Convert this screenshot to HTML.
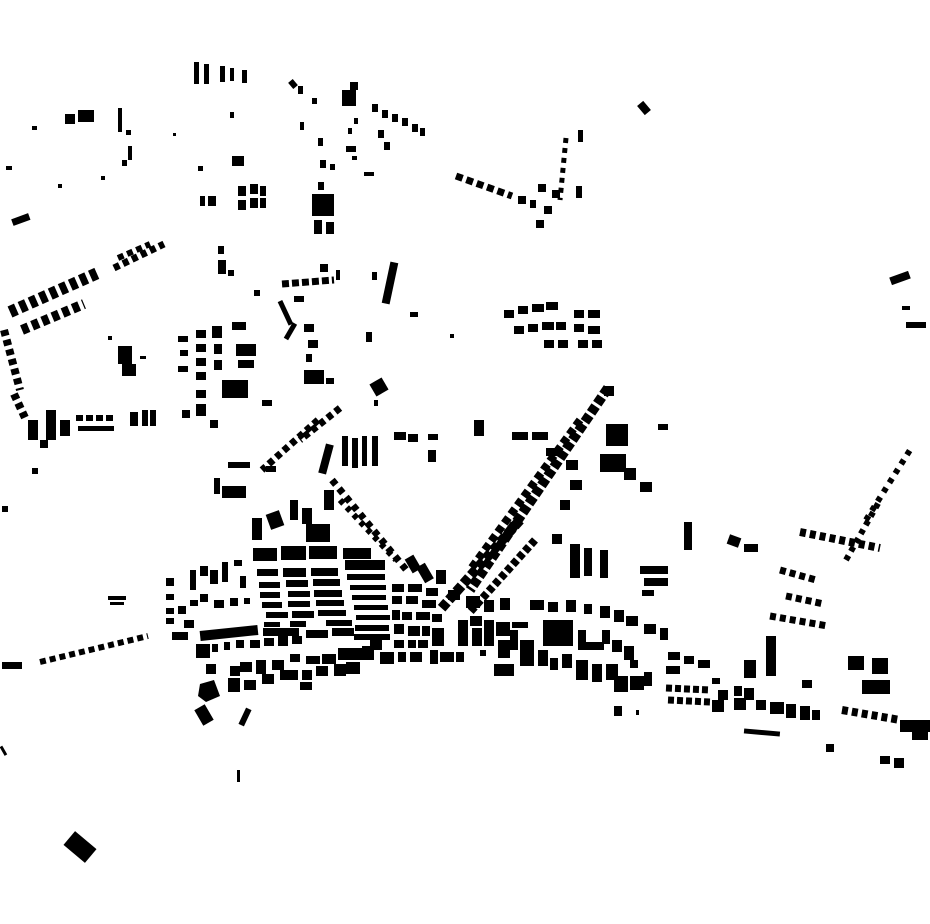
<!DOCTYPE html>
<html><head><style>html,body{margin:0;padding:0;background:#fff}svg{display:block}</style></head>
<body>
<svg width="930" height="924" viewBox="0 0 930 924" xmlns="http://www.w3.org/2000/svg" fill="#000">
<g stroke="#000" fill="none">
<!-- dashed rows of buildings -->
<line x1="456" y1="176" x2="512" y2="196" stroke-width="7" stroke-dasharray="7 4"/>
<line x1="10" y1="312" x2="100" y2="272" stroke-width="12" stroke-dasharray="7 4"/>
<line x1="22" y1="330" x2="84" y2="304" stroke-width="10" stroke-dasharray="7 4"/>
<line x1="114" y1="268" x2="164" y2="244" stroke-width="7" stroke-dasharray="6 4"/>
<line x1="118" y1="258" x2="150" y2="244" stroke-width="6" stroke-dasharray="6 4"/>
<line x1="4" y1="330" x2="20" y2="390" stroke-width="8" stroke-dasharray="6 4"/>
<line x1="14" y1="394" x2="26" y2="420" stroke-width="8" stroke-dasharray="6 4"/>
<line x1="40" y1="662" x2="148" y2="636" stroke-width="6" stroke-dasharray="6 4"/>
<line x1="608" y1="388" x2="470" y2="590" stroke-width="10" stroke-dasharray="8 3"/>
<line x1="580" y1="420" x2="470" y2="570" stroke-width="8" stroke-dasharray="7 4"/>
<line x1="520" y1="520" x2="440" y2="610" stroke-width="10" stroke-dasharray="8 3"/>
<line x1="535" y1="540" x2="470" y2="612" stroke-width="8" stroke-dasharray="6 3"/>
<line x1="340" y1="408" x2="300" y2="440" stroke-width="7" stroke-dasharray="6 4"/>
<line x1="318" y1="420" x2="262" y2="470" stroke-width="7" stroke-dasharray="6 4"/>
<line x1="332" y1="480" x2="408" y2="572" stroke-width="7" stroke-dasharray="6 5"/>
<line x1="340" y1="500" x2="396" y2="560" stroke-width="6" stroke-dasharray="5 5"/>
<line x1="770" y1="616" x2="828" y2="626" stroke-width="7" stroke-dasharray="6 4"/>
<line x1="786" y1="596" x2="824" y2="604" stroke-width="7" stroke-dasharray="6 4"/>
<line x1="780" y1="570" x2="816" y2="580" stroke-width="7" stroke-dasharray="6 4"/>
<line x1="842" y1="710" x2="900" y2="720" stroke-width="8" stroke-dasharray="6 4"/>
<line x1="800" y1="532" x2="880" y2="548" stroke-width="8" stroke-dasharray="6 4"/>
<line x1="846" y1="560" x2="880" y2="500" stroke-width="6" stroke-dasharray="5 5"/>
<line x1="866" y1="520" x2="910" y2="450" stroke-width="6" stroke-dasharray="5 6"/>
<line x1="666" y1="688" x2="710" y2="690" stroke-width="7" stroke-dasharray="6 3"/>
<line x1="668" y1="700" x2="710" y2="702" stroke-width="7" stroke-dasharray="6 3"/>
<line x1="566" y1="138" x2="560" y2="200" stroke-width="5" stroke-dasharray="5 5"/>
<line x1="76" y1="418" x2="116" y2="418" stroke-width="6" stroke-dasharray="7 3"/>
<line x1="282" y1="284" x2="334" y2="280" stroke-width="7" stroke-dasharray="7 3"/>
<line x1="342" y1="438" x2="382" y2="438" stroke-width="0"/>
</g>
<!-- top north -->
<rect x="194" y="62" width="5" height="22"/><rect x="204" y="64" width="5" height="20"/><rect x="220" y="66" width="5" height="16"/><rect x="230" y="68" width="4" height="13"/><rect x="242" y="70" width="5" height="13"/>
<rect x="290" y="80" width="6" height="8" transform="rotate(-40 293 84)"/><rect x="298" y="86" width="5" height="8"/><rect x="312" y="98" width="5" height="6"/>
<rect x="342" y="90" width="14" height="16"/><rect x="350" y="82" width="8" height="8"/><rect x="372" y="104" width="6" height="8"/><rect x="382" y="110" width="6" height="8"/><rect x="392" y="114" width="6" height="8"/><rect x="402" y="118" width="6" height="8"/><rect x="412" y="124" width="6" height="8"/><rect x="420" y="128" width="5" height="8"/>
<rect x="354" y="118" width="4" height="6"/><rect x="348" y="128" width="4" height="6"/><rect x="378" y="130" width="6" height="8"/><rect x="384" y="142" width="6" height="8"/><rect x="346" y="146" width="10" height="6"/><rect x="352" y="156" width="5" height="4"/>
<rect x="65" y="114" width="10" height="10"/><rect x="78" y="110" width="16" height="12"/><rect x="32" y="126" width="5" height="4"/><rect x="118" y="108" width="4" height="24"/><rect x="126" y="130" width="5" height="5"/><rect x="128" y="146" width="4" height="14"/><rect x="122" y="160" width="5" height="6"/>
<rect x="232" y="156" width="12" height="10"/><rect x="230" y="112" width="4" height="6"/><rect x="318" y="138" width="5" height="8"/><rect x="320" y="160" width="6" height="8"/><rect x="330" y="164" width="5" height="6"/><rect x="364" y="172" width="10" height="4"/>
<rect x="6" y="166" width="6" height="4"/><rect x="58" y="184" width="4" height="4"/><rect x="101" y="176" width="4" height="4"/><rect x="173" y="133" width="3" height="3"/><rect x="300" y="122" width="4" height="8"/>
<rect x="238" y="186" width="8" height="10"/><rect x="250" y="184" width="8" height="10"/><rect x="260" y="186" width="6" height="10"/><rect x="238" y="200" width="8" height="10"/><rect x="250" y="198" width="8" height="10"/><rect x="260" y="198" width="6" height="10"/>
<rect x="200" y="196" width="5" height="10"/><rect x="208" y="196" width="8" height="10"/><rect x="198" y="166" width="5" height="5"/>
<rect x="312" y="194" width="22" height="22"/><rect x="314" y="220" width="8" height="14"/><rect x="326" y="222" width="8" height="12"/><rect x="318" y="182" width="6" height="8"/>
<rect x="12" y="216" width="18" height="7" transform="rotate(-20 21 220)"/>
<rect x="218" y="246" width="6" height="8"/><rect x="218" y="260" width="8" height="14"/><rect x="228" y="270" width="6" height="6"/><rect x="254" y="290" width="6" height="6"/>
<rect x="386" y="262" width="8" height="42" transform="rotate(12 390 283)"/><rect x="372" y="272" width="5" height="8"/>
<rect x="320" y="264" width="8" height="8"/><rect x="336" y="270" width="4" height="10"/><rect x="294" y="296" width="10" height="6"/>
<rect x="283" y="300" width="5" height="26" transform="rotate(-25 285 313)"/><rect x="288" y="322" width="5" height="18" transform="rotate(30 290 331)"/>
<!-- top right cluster -->
<rect x="538" y="184" width="8" height="8"/><rect x="552" y="190" width="8" height="8"/><rect x="530" y="200" width="6" height="8"/><rect x="544" y="206" width="8" height="8"/><rect x="536" y="220" width="8" height="8"/><rect x="518" y="196" width="8" height="8"/>
<rect x="578" y="130" width="5" height="12"/><rect x="576" y="186" width="6" height="12"/>
<rect x="640" y="102" width="8" height="12" transform="rotate(-40 644 108)"/>
<rect x="504" y="310" width="10" height="8"/><rect x="518" y="306" width="10" height="8"/><rect x="532" y="304" width="12" height="8"/><rect x="546" y="302" width="12" height="8"/><rect x="574" y="310" width="10" height="8"/><rect x="588" y="310" width="12" height="8"/>
<rect x="514" y="326" width="10" height="8"/><rect x="528" y="324" width="10" height="8"/><rect x="542" y="322" width="12" height="8"/><rect x="556" y="322" width="10" height="8"/><rect x="574" y="324" width="10" height="8"/><rect x="588" y="326" width="12" height="8"/>
<rect x="544" y="340" width="10" height="8"/><rect x="558" y="340" width="10" height="8"/><rect x="578" y="340" width="10" height="8"/><rect x="592" y="340" width="10" height="8"/>
<rect x="410" y="312" width="8" height="5"/><rect x="450" y="334" width="4" height="4"/><rect x="366" y="332" width="6" height="10"/>
<!-- left west -->
<rect x="46" y="410" width="10" height="30"/><rect x="60" y="420" width="10" height="16"/><rect x="78" y="426" width="36" height="5"/><rect x="130" y="412" width="8" height="14"/><rect x="142" y="410" width="6" height="16"/><rect x="150" y="410" width="6" height="16"/><rect x="28" y="420" width="10" height="20"/>
<rect x="40" y="440" width="8" height="8"/><rect x="32" y="468" width="6" height="6"/><rect x="2" y="506" width="6" height="6"/>
<rect x="118" y="346" width="14" height="18"/><rect x="122" y="364" width="14" height="12"/><rect x="108" y="336" width="4" height="4"/><rect x="140" y="356" width="6" height="3"/>
<!-- middle-left -->
<rect x="178" y="336" width="10" height="6"/><rect x="180" y="350" width="8" height="6"/><rect x="178" y="366" width="10" height="6"/><rect x="196" y="330" width="10" height="8"/><rect x="196" y="344" width="10" height="8"/><rect x="196" y="358" width="10" height="8"/><rect x="196" y="372" width="10" height="8"/><rect x="196" y="390" width="10" height="8"/><rect x="196" y="404" width="10" height="12"/>
<rect x="212" y="326" width="10" height="12"/><rect x="214" y="344" width="8" height="10"/><rect x="214" y="360" width="8" height="10"/><rect x="232" y="322" width="14" height="8"/><rect x="236" y="344" width="20" height="12"/><rect x="238" y="360" width="16" height="8"/>
<rect x="222" y="380" width="26" height="18"/><rect x="262" y="400" width="10" height="6"/><rect x="182" y="410" width="8" height="8"/><rect x="210" y="420" width="8" height="8"/>
<rect x="304" y="324" width="10" height="8"/><rect x="308" y="340" width="10" height="8"/><rect x="306" y="354" width="6" height="8"/><rect x="304" y="370" width="20" height="14"/><rect x="326" y="378" width="8" height="6"/>
<rect x="372" y="380" width="14" height="14" transform="rotate(-30 379 387)"/><rect x="374" y="400" width="4" height="6"/>
<rect x="228" y="462" width="22" height="6"/><rect x="266" y="466" width="10" height="6"/><rect x="214" y="478" width="6" height="16"/><rect x="222" y="486" width="24" height="12"/>
<rect x="322" y="444" width="8" height="30" transform="rotate(15 326 459)"/>
<rect x="342" y="436" width="6" height="30"/><rect x="352" y="438" width="6" height="30"/><rect x="362" y="436" width="5" height="30"/><rect x="372" y="436" width="6" height="30"/><rect x="394" y="432" width="12" height="8"/><rect x="408" y="434" width="10" height="8"/><rect x="428" y="434" width="10" height="6"/><rect x="428" y="450" width="8" height="12"/>
<rect x="474" y="420" width="10" height="16"/><rect x="512" y="432" width="16" height="8"/><rect x="532" y="432" width="16" height="8"/><rect x="658" y="424" width="10" height="6"/>
<rect x="606" y="424" width="22" height="22"/><rect x="600" y="454" width="26" height="18"/><rect x="624" y="468" width="12" height="12"/><rect x="640" y="482" width="12" height="10"/><rect x="604" y="386" width="10" height="10"/>
<rect x="546" y="448" width="12" height="8"/><rect x="566" y="460" width="12" height="10"/><rect x="570" y="480" width="12" height="10"/><rect x="560" y="500" width="10" height="10"/>
<!-- main grid -->
<rect x="252" y="518" width="10" height="22"/><rect x="268" y="512" width="14" height="16" transform="rotate(-20 275 520)"/><rect x="290" y="500" width="8" height="20"/><rect x="302" y="508" width="10" height="16"/><rect x="306" y="524" width="24" height="18"/><rect x="324" y="490" width="10" height="20"/>
<rect x="253" y="548" width="24" height="13"/><rect x="281" y="546" width="25" height="14"/><rect x="309" y="546" width="28" height="13"/><rect x="343" y="548" width="28" height="11"/>
<rect x="345" y="560" width="40" height="10"/>
<rect x="257" y="569" width="21" height="7"/><rect x="283" y="568" width="23" height="9"/><rect x="311" y="568" width="27" height="8"/><rect x="347" y="574" width="38" height="6"/>
<rect x="259" y="582" width="21" height="6"/><rect x="286" y="580" width="22" height="7"/><rect x="313" y="579" width="27" height="7"/><rect x="350" y="585" width="36" height="5"/>
<rect x="260" y="592" width="20" height="6"/><rect x="288" y="591" width="22" height="6"/><rect x="314" y="590" width="28" height="7"/><rect x="352" y="595" width="34" height="5"/>
<rect x="262" y="602" width="20" height="6"/><rect x="288" y="601" width="22" height="6"/><rect x="316" y="600" width="28" height="6"/><rect x="354" y="605" width="34" height="5"/>
<rect x="266" y="612" width="22" height="6"/><rect x="292" y="611" width="22" height="7"/><rect x="318" y="610" width="28" height="6"/><rect x="356" y="615" width="34" height="5"/>
<rect x="264" y="622" width="16" height="5"/><rect x="290" y="621" width="16" height="6"/><rect x="326" y="620" width="26" height="6"/><rect x="355" y="625" width="34" height="6"/>
<rect x="200" y="628" width="58" height="10" transform="rotate(-6 229 633)"/><rect x="263" y="628" width="36" height="8"/><rect x="306" y="630" width="22" height="8"/><rect x="332" y="628" width="22" height="8"/><rect x="354" y="634" width="36" height="6"/>
<!-- left part -->
<rect x="166" y="578" width="8" height="8"/><rect x="166" y="594" width="8" height="6"/><rect x="166" y="608" width="8" height="6"/><rect x="166" y="618" width="8" height="6"/><rect x="178" y="606" width="8" height="8"/><rect x="184" y="620" width="10" height="8"/>
<rect x="172" y="632" width="16" height="8"/><rect x="190" y="570" width="6" height="20"/><rect x="200" y="566" width="8" height="10"/><rect x="210" y="570" width="8" height="14"/><rect x="222" y="562" width="6" height="20"/><rect x="234" y="560" width="8" height="6"/><rect x="240" y="576" width="6" height="12"/>
<rect x="190" y="600" width="8" height="6"/><rect x="200" y="594" width="8" height="8"/><rect x="214" y="600" width="10" height="8"/><rect x="230" y="598" width="8" height="8"/><rect x="244" y="598" width="6" height="6"/>
<rect x="196" y="644" width="14" height="14"/><rect x="212" y="644" width="6" height="8"/><rect x="224" y="642" width="6" height="8"/><rect x="236" y="640" width="8" height="8"/><rect x="250" y="640" width="10" height="8"/><rect x="264" y="638" width="10" height="8"/><rect x="278" y="636" width="10" height="10"/><rect x="292" y="636" width="10" height="8"/>
<rect x="206" y="664" width="10" height="10"/><rect x="230" y="666" width="10" height="10"/><rect x="240" y="662" width="12" height="10"/><rect x="256" y="660" width="10" height="14"/><rect x="272" y="660" width="12" height="10"/><rect x="290" y="654" width="10" height="8"/><rect x="306" y="656" width="14" height="8"/><rect x="322" y="654" width="14" height="10"/><rect x="338" y="648" width="24" height="12"/><rect x="362" y="646" width="12" height="14"/>
<rect x="228" y="678" width="12" height="14"/><rect x="244" y="680" width="12" height="10"/><rect x="262" y="674" width="12" height="10"/><rect x="280" y="670" width="18" height="10"/><rect x="302" y="670" width="10" height="10"/><rect x="316" y="666" width="12" height="10"/><rect x="334" y="664" width="12" height="12"/><rect x="346" y="662" width="14" height="12"/>
<rect x="300" y="682" width="12" height="8"/>
<polygon points="200,684 214,680 220,696 206,702 198,696"/><rect x="198" y="706" width="12" height="18" transform="rotate(-30 204 715)"/><rect x="242" y="708" width="6" height="18" transform="rotate(25 245 717)"/>
<rect x="108" y="596" width="18" height="4"/><rect x="110" y="602" width="14" height="3"/>
<rect x="2" y="662" width="20" height="7"/>
<rect x="2" y="746" width="3" height="10" transform="rotate(-30 3 751)"/><rect x="237" y="770" width="3" height="12"/>
<rect x="66" y="838" width="28" height="18" transform="rotate(40 80 847)"/>
<!-- centre (granular) -->
<g>
<rect x="392" y="584" width="12" height="8"/><rect x="408" y="584" width="14" height="8"/><rect x="426" y="588" width="12" height="8"/>
<rect x="392" y="596" width="10" height="8"/><rect x="406" y="596" width="12" height="8"/><rect x="422" y="600" width="14" height="8"/>
<rect x="392" y="610" width="8" height="10"/><rect x="402" y="612" width="10" height="8"/><rect x="416" y="612" width="14" height="8"/><rect x="432" y="614" width="10" height="8"/>
<rect x="394" y="624" width="10" height="10"/><rect x="408" y="626" width="12" height="10"/><rect x="422" y="626" width="8" height="10"/><rect x="432" y="628" width="12" height="18"/>
<rect x="394" y="640" width="10" height="8"/><rect x="408" y="640" width="8" height="8"/><rect x="418" y="640" width="10" height="8"/>
<rect x="380" y="652" width="14" height="12"/><rect x="398" y="652" width="8" height="10"/><rect x="410" y="652" width="12" height="10"/><rect x="430" y="650" width="8" height="14"/><rect x="370" y="640" width="12" height="10"/>
<rect x="440" y="652" width="14" height="10"/><rect x="456" y="652" width="8" height="10"/>
<rect x="458" y="620" width="10" height="26"/><rect x="470" y="616" width="12" height="10"/><rect x="472" y="628" width="10" height="18"/><rect x="484" y="620" width="10" height="26"/><rect x="496" y="622" width="14" height="14"/><rect x="498" y="640" width="12" height="18"/><rect x="480" y="650" width="6" height="6"/>
<rect x="494" y="664" width="20" height="12"/>
<rect x="512" y="622" width="16" height="6"/><rect x="510" y="630" width="8" height="20"/><rect x="520" y="640" width="14" height="26"/><rect x="530" y="600" width="14" height="10"/>
<rect x="420" y="564" width="10" height="18" transform="rotate(-30 425 573)"/><rect x="436" y="570" width="10" height="14"/><rect x="408" y="556" width="10" height="16" transform="rotate(-30 413 564)"/>
<rect x="448" y="590" width="12" height="10"/><rect x="466" y="596" width="14" height="12"/><rect x="484" y="600" width="10" height="12"/><rect x="500" y="598" width="10" height="12"/>
</g>
<rect x="543" y="620" width="30" height="26"/>
<rect x="548" y="602" width="10" height="10"/><rect x="566" y="600" width="10" height="12"/><rect x="584" y="604" width="8" height="10"/><rect x="600" y="606" width="10" height="12"/><rect x="614" y="610" width="10" height="12"/><rect x="626" y="616" width="12" height="10"/><rect x="644" y="624" width="12" height="10"/><rect x="660" y="628" width="8" height="12"/>
<rect x="578" y="630" width="8" height="20"/><rect x="586" y="642" width="18" height="8"/><rect x="602" y="630" width="8" height="14"/><rect x="612" y="640" width="10" height="12"/><rect x="624" y="646" width="10" height="14"/><rect x="630" y="660" width="8" height="8"/>
<rect x="538" y="650" width="10" height="16"/><rect x="550" y="658" width="8" height="12"/><rect x="562" y="654" width="10" height="14"/><rect x="576" y="660" width="12" height="20"/><rect x="592" y="664" width="10" height="18"/><rect x="606" y="664" width="12" height="16"/><rect x="614" y="676" width="14" height="16"/><rect x="630" y="676" width="14" height="14"/><rect x="644" y="672" width="8" height="14"/>
<rect x="614" y="706" width="8" height="10"/><rect x="636" y="710" width="3" height="5"/>
<rect x="570" y="544" width="10" height="34"/><rect x="584" y="548" width="8" height="28"/><rect x="600" y="550" width="8" height="28"/><rect x="640" y="566" width="28" height="8"/><rect x="644" y="578" width="24" height="8"/><rect x="642" y="590" width="12" height="6"/>
<rect x="552" y="534" width="10" height="10"/>
<!-- east -->
<rect x="668" y="652" width="12" height="8"/><rect x="684" y="656" width="10" height="8"/><rect x="698" y="660" width="12" height="8"/><rect x="666" y="666" width="14" height="8"/><rect x="712" y="678" width="8" height="6"/><rect x="718" y="690" width="10" height="10"/><rect x="734" y="686" width="8" height="10"/><rect x="744" y="688" width="10" height="12"/>
<rect x="734" y="698" width="12" height="12"/><rect x="712" y="700" width="12" height="12"/><rect x="756" y="700" width="10" height="10"/><rect x="770" y="702" width="14" height="12"/><rect x="786" y="704" width="10" height="14"/><rect x="800" y="706" width="10" height="14"/><rect x="812" y="710" width="8" height="10"/>
<rect x="744" y="730" width="36" height="5" transform="rotate(5 762 732)"/><rect x="826" y="744" width="8" height="8"/><rect x="880" y="756" width="10" height="8"/><rect x="894" y="758" width="10" height="10"/>
<rect x="766" y="636" width="10" height="40"/><rect x="744" y="660" width="12" height="18"/><rect x="802" y="680" width="10" height="8"/>
<rect x="848" y="656" width="16" height="14"/><rect x="872" y="658" width="16" height="16"/><rect x="862" y="680" width="28" height="14"/>
<rect x="900" y="720" width="30" height="12"/><rect x="912" y="730" width="16" height="10"/>
<rect x="728" y="536" width="12" height="10" transform="rotate(20 734 541)"/><rect x="744" y="544" width="14" height="8"/><rect x="684" y="522" width="8" height="28"/>
<rect x="890" y="274" width="20" height="8" transform="rotate(-20 900 278)"/><rect x="902" y="306" width="8" height="4"/><rect x="906" y="322" width="20" height="6"/>
</svg>
</body></html>
